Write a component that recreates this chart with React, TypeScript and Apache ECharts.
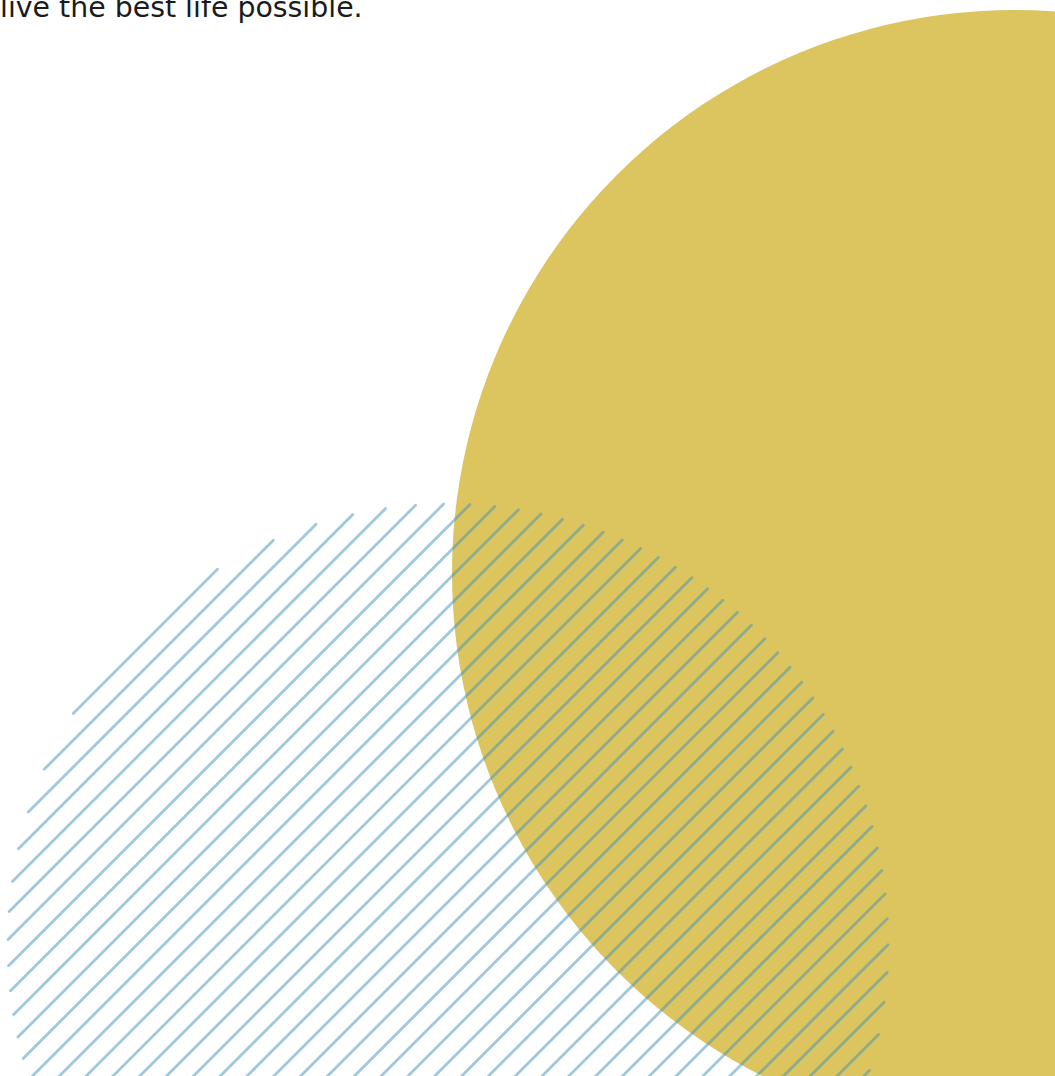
import React, { useEffect, useRef } from "react";
import * as echarts from "echarts";

const CANVAS_W = 1055;
const CANVAS_H = 1076;

// Caption
const captionText = ["live the best life possible."];

// Solid disc: [centerX, centerY, radius]
const solidDisc = [[1015, 573, 563]];

// Hatched disc: [centerX, centerY, radius]
const hatchDisc = [448, 944, 440];

// Hatch lines: each line is x + y = offset (45° strokes)
const hatchOffsets = [
  786.7, 813.5, 840.3, 867.2, 894.0, 920.8, 947.6, 974.4, 1001.3, 1028.1,
  1054.9, 1081.7, 1108.5, 1135.4, 1162.2, 1189.0, 1215.8, 1242.6, 1269.5,
  1296.3, 1323.1, 1349.9, 1376.7, 1403.6, 1430.4, 1457.2, 1484.0, 1510.8,
  1537.7, 1564.5, 1591.3, 1618.1, 1644.9, 1671.8, 1698.6, 1725.4, 1752.2,
  1779.0, 1805.9, 1832.7, 1859.5, 1886.3, 1913.1, 1940.0, 1966.8, 1993.6,
];

export default function App() {
  const ref = useRef<HTMLDivElement>(null);

  useEffect(() => {
    if (!ref.current) return;
    const chart = echarts.init(ref.current, undefined, { renderer: "svg" });
    const [hx, hy, hr] = hatchDisc;

    chart.setOption({
      animation: false,
      backgroundColor: "#ffffff",
      grid: { left: 0, right: 0, top: 0, bottom: 0 },
      xAxis: { type: "value", min: 0, max: CANVAS_W, show: false },
      yAxis: { type: "value", min: 0, max: CANVAS_H, inverse: true, show: false },
      graphic: [
        {
          type: "text",
          left: 0,
          top: -7,
          style: {
            text: captionText[0],
            fontSize: 28.4,
            fontFamily: "'DejaVu Sans', sans-serif",
            fontWeight: 400,
            fill: "#1b1b1b",
          },
          z: 10,
        },
      ],
      series: [
        {
          type: "custom",
          coordinateSystem: "cartesian2d",
          data: solidDisc,
          renderItem: (params: any, api: any) => {
            const c = api.coord([api.value(0), api.value(1)]);
            const r = api.size([api.value(2), 0])[0];
            return {
              type: "circle",
              shape: { cx: c[0], cy: c[1], r },
              style: { fill: "#DCC45E" },
            };
          },
          z: 1,
        },
        {
          type: "custom",
          coordinateSystem: "cartesian2d",
          data: hatchOffsets.map((v) => [v]),
          renderItem: (params: any, api: any) => {
            const off = api.value(0);
            const d = (off - hx - hy) / Math.SQRT2;
            if (Math.abs(d) >= hr) return null;
            const half = Math.sqrt(hr * hr - d * d);
            const fx = hx + d / Math.SQRT2;
            const fy = hy + d / Math.SQRT2;
            const ux = 1 / Math.SQRT2;
            const uy = -1 / Math.SQRT2;
            const p1 = api.coord([fx - ux * half, fy - uy * half]);
            const p2 = api.coord([fx + ux * half, fy + uy * half]);
            return {
              type: "line",
              shape: { x1: p1[0], y1: p1[1], x2: p2[0], y2: p2[1] },
              style: {
                stroke: "rgb(63,147,184)",
                opacity: 0.5,
                lineWidth: 2.8,
                lineCap: "round",
              },
            };
          },
          z: 2,
        },
      ],
    });

    return () => chart.dispose();
  }, []);

  return (
    <div
      ref={ref}
      style={{
        position: "fixed",
        left: 0,
        top: 0,
        width: CANVAS_W,
        height: CANVAS_H,
      }}
    />
  );
}
